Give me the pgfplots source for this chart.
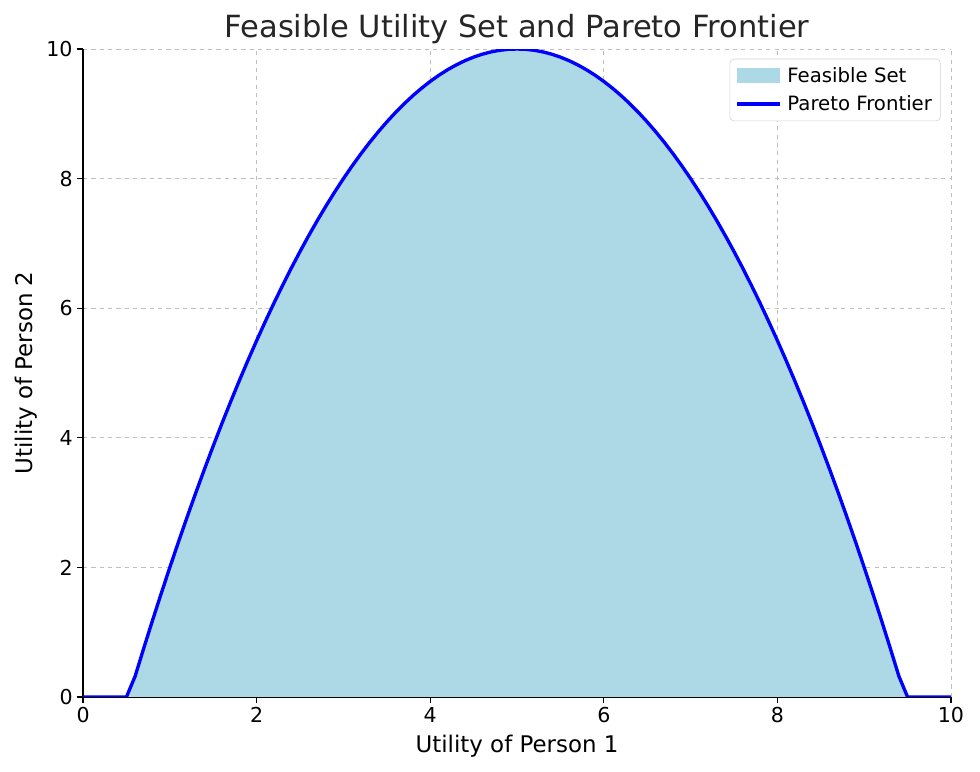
\documentclass[border=0pt]{standalone}
\usepackage{fontspec}
\setmainfont{DejaVu Sans}
\usepackage{pgfplots}
\usepackage{pgfplotstable}
\pgfplotsset{compat=1.18}
\definecolor{lightblue}{RGB}{173,216,230}
\definecolor{gridgray}{RGB}{190,190,190}

\pgfplotsset{
    boxlegend/.style={legend image code/.code={\fill[##1, sharp corners] (0pt,-5pt) rectangle (31pt,6pt);}},
    linelegend/.style={legend image code/.code={\draw[##1, sharp corners] (0pt,0pt) -- (31pt,0pt);}},
}

% frontier of the feasible set
\pgfplotstableread{
x y
0 0
0.5 0
0.6 0.32
0.7 0.755
0.8 1.18
0.9 1.595
1.0 2
1.1 2.395
1.2 2.78
1.3 3.155
1.4 3.52
1.5 3.875
1.6 4.22
1.7 4.555
1.8 4.88
1.9 5.195
2.0 5.5
2.1 5.795
2.2 6.08
2.3 6.355
2.4 6.62
2.5 6.875
2.6 7.12
2.7 7.355
2.8 7.58
2.9 7.795
3.0 8
3.1 8.195
3.2 8.38
3.3 8.555
3.4 8.72
3.5 8.875
3.6 9.02
3.7 9.155
3.8 9.28
3.9 9.395
4.0 9.5
4.1 9.595
4.2 9.68
4.3 9.755
4.4 9.82
4.5 9.875
4.6 9.92
4.7 9.955
4.8 9.98
4.9 9.995
5.0 10
5.1 9.995
5.2 9.98
5.3 9.955
5.4 9.92
5.5 9.875
5.6 9.82
5.7 9.755
5.8 9.68
5.9 9.595
6.0 9.5
6.1 9.395
6.2 9.28
6.3 9.155
6.4 9.02
6.5 8.875
6.6 8.72
6.7 8.555
6.8 8.38
6.9 8.195
7.0 8
7.1 7.795
7.2 7.58
7.3 7.355
7.4 7.12
7.5 6.875
7.6 6.62
7.7 6.355
7.8 6.08
7.9 5.795
8.0 5.5
8.1 5.195
8.2 4.88
8.3 4.555
8.4 4.22
8.5 3.875
8.6 3.52
8.7 3.155
8.8 2.78
8.9 2.395
9.0 2
9.1 1.595
9.2 1.18
9.3 0.755
9.4 0.32
9.5 0
10 0
}\frontier

\begin{document}
\begin{tikzpicture}
\path[use as bounding box] (-59.8pt,-54pt) rectangle (645.9pt,501.9pt);
\begin{axis}[
    at={(0pt,0pt)}, anchor=south west,
    scale only axis,
    width=625pt,
    height=466.6pt,
    xmin=0, xmax=10,
    ymin=0, ymax=10,
    xtick={0,2,...,10},
    ytick={0,2,...,10},
    axis x line*=bottom,
    axis y line*=left,
    axis line style={black, line width=0.9pt},
    tick style={black, line width=0.8pt},
    tick align=outside,
    major tick length=4pt,
    grid=major,
    grid style={dashed, gridgray, line width=0.6pt},
    /pgf/number format/assume math mode=true,
    tick label style={font=\fontsize{14.8}{17}\selectfont},
    label style={font=\fontsize{16.5}{19}\selectfont},
    xlabel style={yshift=-2pt},
    title style={font=\fontsize{22}{26}\selectfont, text=black!85, yshift=-6pt},
    title={Feasible Utility Set and Pareto Frontier},
    xlabel={Utility of Person 1},
    ylabel={Utility of Person 2},
    legend style={at={(0.988,0.985)}, anchor=north east,
        draw=gray!35, rounded corners=3pt,
        font=\fontsize{14.2}{17}\selectfont,
        row sep=4pt, inner xsep=4pt, inner ysep=4pt,
        /tikz/every odd column/.append style={column sep=2pt}},
    legend cell align=left,
]
\addplot[fill=lightblue, draw=none, boxlegend] table {\frontier} \closedcycle;
\addlegendentry{Feasible Set}
\addplot[blue, line width=2.4pt, line join=round, linelegend] table {\frontier};
\addlegendentry{Pareto Frontier}
\end{axis}
\end{tikzpicture}
\end{document}
